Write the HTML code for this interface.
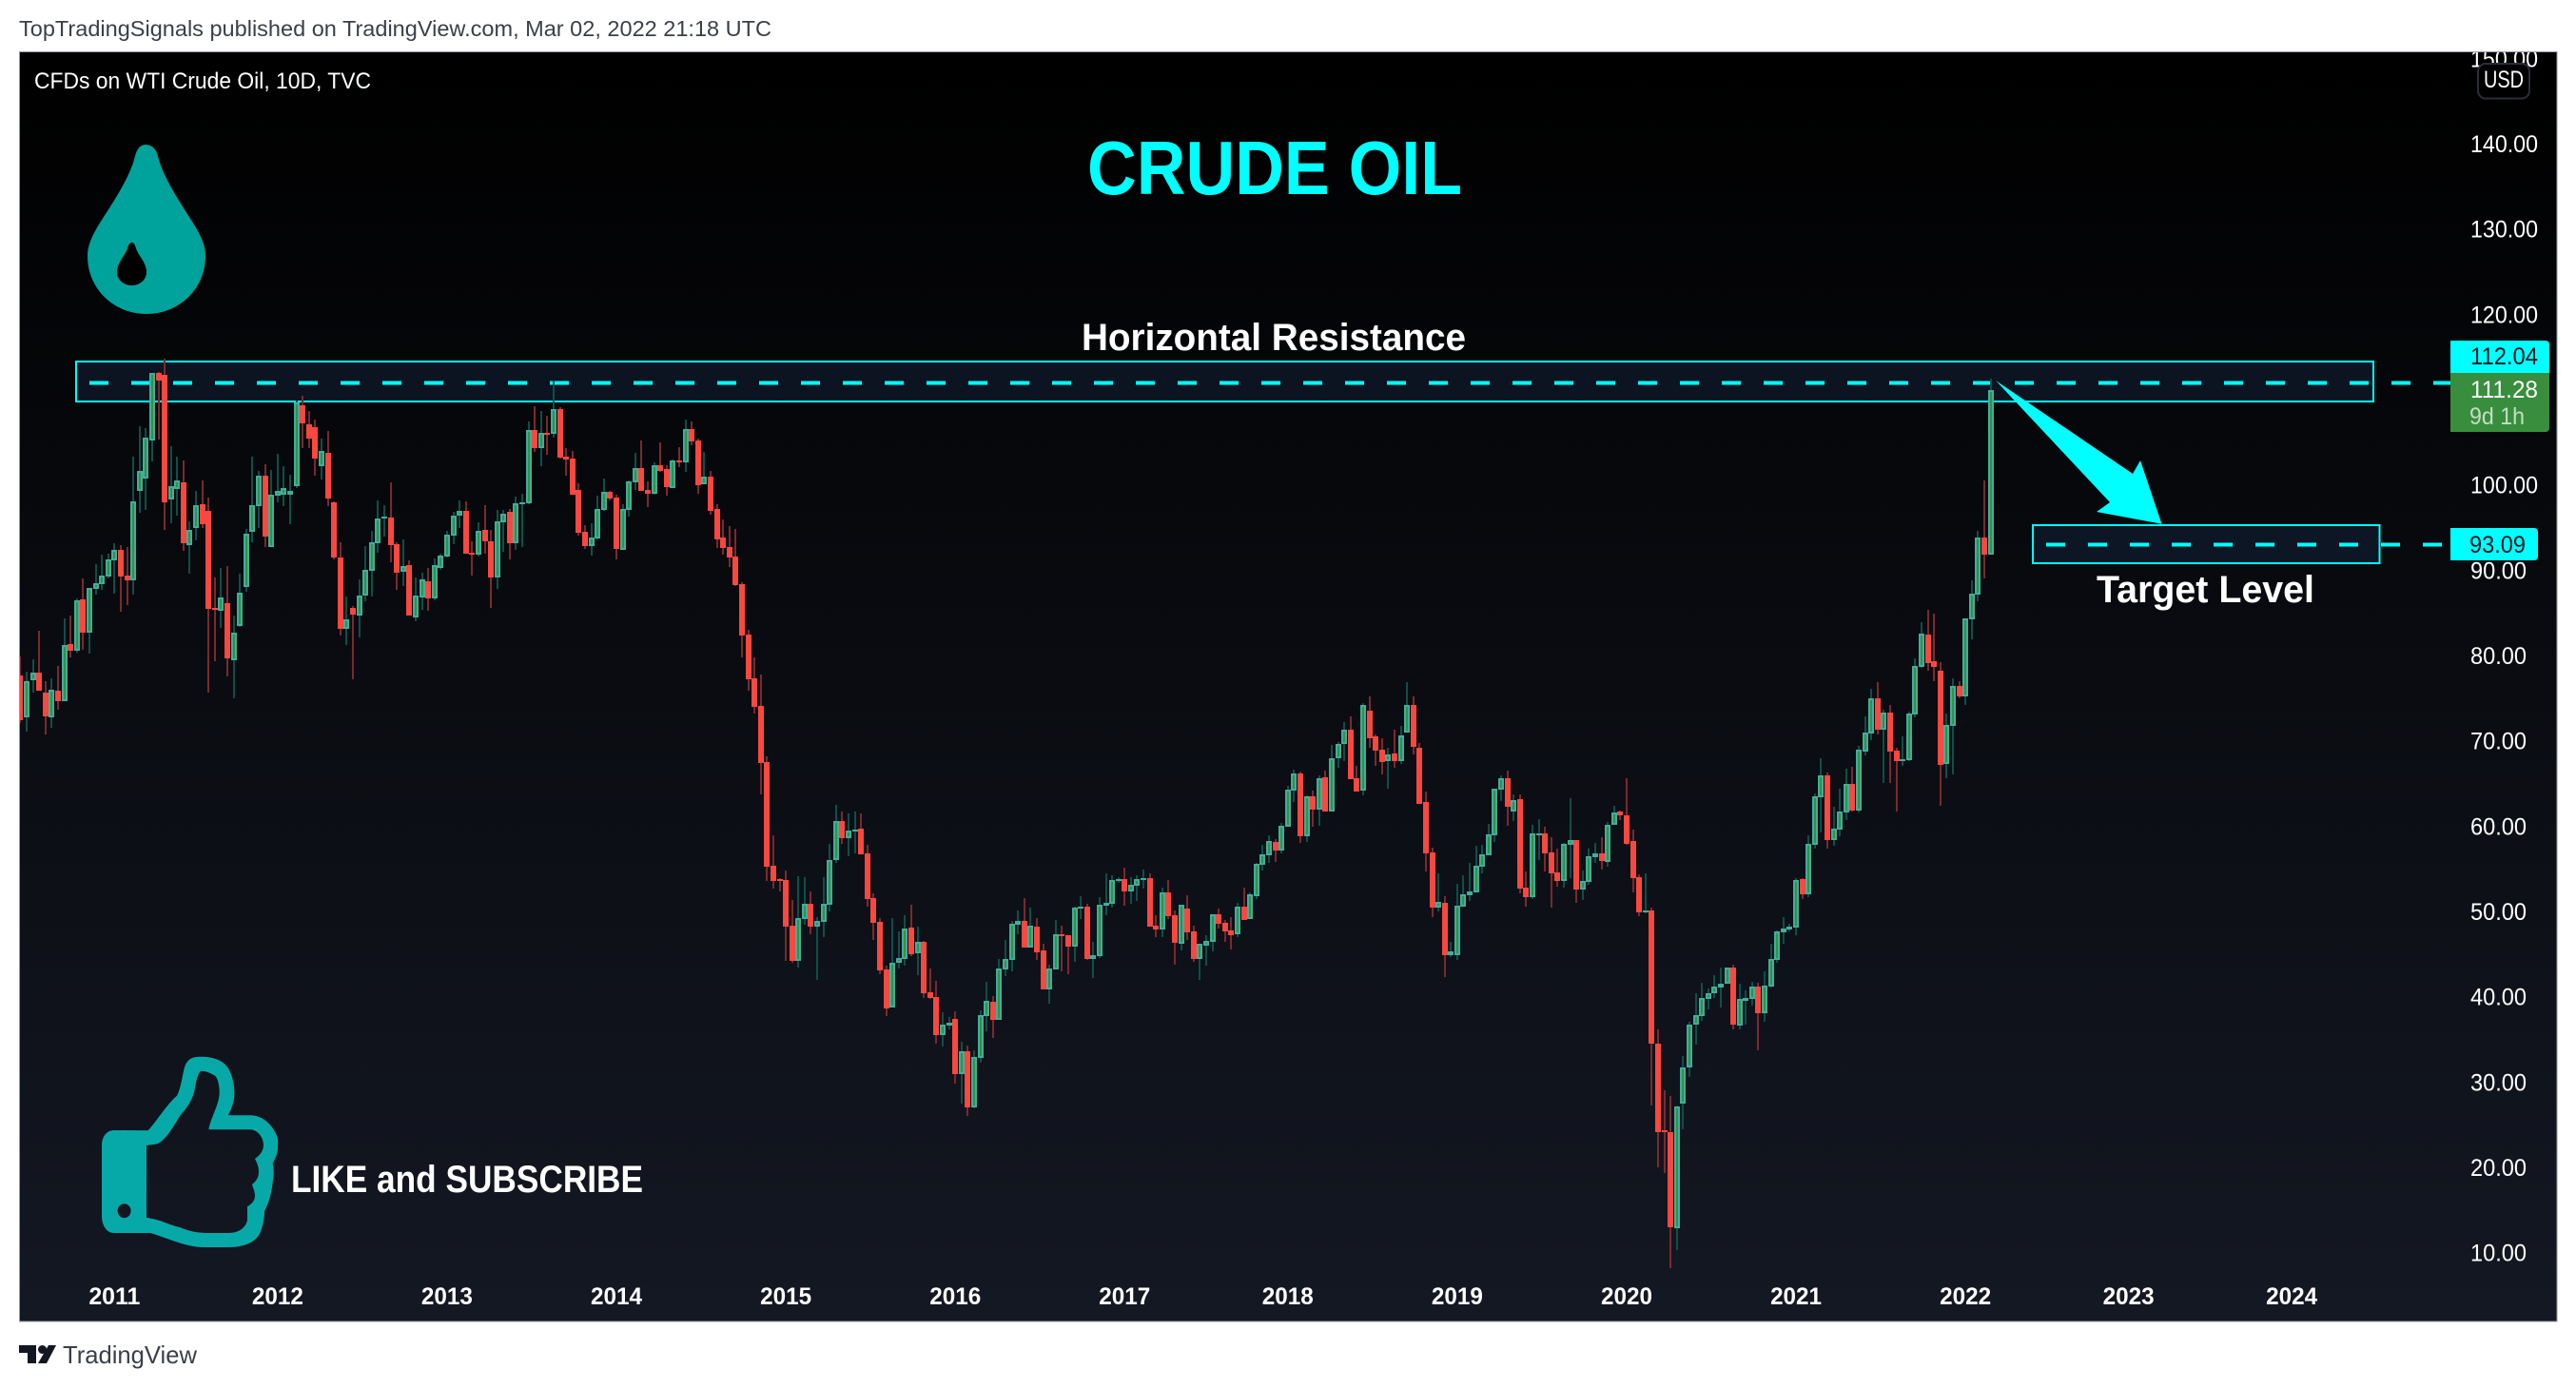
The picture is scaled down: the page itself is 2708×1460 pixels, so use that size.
<!DOCTYPE html>
<html lang="en">
<head>
<meta charset="utf-8">
<title>CFDs on WTI Crude Oil, 10D, TVC</title>
<style>
html,body{margin:0;padding:0;background:#fff;width:2708px;height:1460px;overflow:hidden}
svg{display:block;font-family:"Liberation Sans",sans-serif}
</style>
</head>
<body>
<svg id="chart-root" xmlns="http://www.w3.org/2000/svg" width="2708" height="1460" viewBox="0 0 2708 1460">
<defs>
<linearGradient id="bg-grad" x1="0" y1="0" x2="0" y2="1">
<stop offset="0" stop-color="#000000"/>
<stop offset="1" stop-color="#141823"/>
</linearGradient>
<clipPath id="pane-clip"><rect x="21" y="55" width="2667" height="1334"/></clipPath>
</defs>
<rect x="0" y="0" width="2708" height="1460" fill="#ffffff"/>
<text x="20" y="38" font-size="23" fill="#3b3f4a" textLength="791" lengthAdjust="spacingAndGlyphs">TopTradingSignals published on TradingView.com, Mar 02, 2022 21:18 UTC</text>
<rect x="20.5" y="54.5" width="2667.5" height="1334.5" fill="url(#bg-grad)" stroke="#9598a1" stroke-width="1"/>

<rect x="80" y="380" width="2415" height="42" fill="#0b1420" stroke="#00ffff" stroke-width="2"/>
<rect x="2137" y="552" width="364.5" height="40" fill="#0c1624" stroke="#00ffff" stroke-width="2"/>
<line x1="94" y1="402.5" x2="2576" y2="402.5" stroke="#00ffff" stroke-width="4" stroke-dasharray="20 24"/>
<line x1="2151" y1="572.5" x2="2576" y2="572.5" stroke="#00ffff" stroke-width="4" stroke-dasharray="20 24"/>

<g id="candles" clip-path="url(#pane-clip)" shape-rendering="crispEdges"></g>

<polygon points="2098,400 2242,498 2250,484 2272.5,550.7 2204,538 2218,528" fill="#00ffff"/>

<text x="36" y="93" font-size="24" fill="#ffffff" textLength="354" lengthAdjust="spacingAndGlyphs">CFDs on WTI Crude Oil, 10D, TVC</text>
<text x="1143" y="204" font-size="80" font-weight="bold" fill="#00ffff" textLength="394" lengthAdjust="spacingAndGlyphs">CRUDE OIL</text>
<text x="1137" y="368" font-size="40" font-weight="bold" fill="#ffffff" textLength="404" lengthAdjust="spacingAndGlyphs">Horizontal Resistance</text>
<text x="2204" y="633" font-size="40" font-weight="bold" fill="#ffffff" textLength="229" lengthAdjust="spacingAndGlyphs">Target Level</text>
<text x="306" y="1253" font-size="40" font-weight="bold" fill="#ffffff" textLength="370" lengthAdjust="spacingAndGlyphs">LIKE and SUBSCRIBE</text>

<g>
<path fill="#00a39b" d="M153,152 C159,152 164,156 166,164 C172,190 196,222 207,241 C213,252 216,260 216,269 C216,304 188,330 154,330 C120,330 92,304 92,269 C92,260 95,252 101,241 C112,222 136,190 142,164 C144,156 148,152 153,152Z"/>
<path fill="#000000" d="M138.5,255 C141,255 142,258 143,261 C145,268 154,276 154,286 C154,294 147,300 138.5,300 C130,300 123,294 123,286 C123,276 132,268 134,261 C135,258 136,255 138.5,255Z"/>
</g>

<path fill="#07a9a8" fill-rule="evenodd" d="M120,1188 L155.6,1188.3 C165,1178 176,1160 186,1151.7 C192,1140 192,1122 196.4,1116.7 C200,1111 206,1110.7 211.7,1110.7 C226,1110.7 236,1116 240,1123 C245,1132 246.4,1142 246.4,1150 C246.4,1158 243,1166 239.8,1172.3 L262.8,1172.3 C276,1172.3 286,1182 290.8,1193.3 C293,1199 292,1203 292,1206.7 C292,1213 289,1218 286.7,1223 C288,1229 288,1235 287,1240 C286,1250 284,1262 278,1273 C278,1282 276,1290 273,1296.7 C268,1306 256,1311 240,1311 L214,1311 C196,1311 178,1302 158,1296 L120,1296 C112,1296 107,1288 107,1278 L107,1204 C107,1195 112,1188 120,1188Z M154,1204 L154,1280 C170,1282 178,1288 189,1290 C200,1295 210,1296 219,1296 L240,1296 C252,1296 258,1290 260,1283 L260,1268.3 C265,1265 268,1262 268,1256.7 C268,1252 266,1249 265,1245 C270,1241 272,1237 272,1231.7 C272,1226 270,1222 268,1218 C274,1214 277,1209 277,1203.3 C277,1196 271,1187.3 262.8,1187.3 L219.4,1187.3 C221,1176 230,1162 230.6,1150 C231,1142 229,1131 224.5,1130 C218,1126 212,1125 210,1126.7 C205,1135 206,1146 201.5,1155 C198,1163 193,1168 189,1173 C182,1185 172,1202 163,1202.7 Z M130.6,1265.2 a7,7.5 0 1 0 0.01,0Z"/>

<g id="price-axis" clip-path="url(#pane-clip)"></g>
<g id="time-axis"></g>

<rect x="2605" y="67" width="54" height="36.5" rx="8" fill="#000000" stroke="#2a2e39" stroke-width="2"/>
<text x="2632" y="92" font-size="25" fill="#ffffff" text-anchor="middle" textLength="42" lengthAdjust="spacingAndGlyphs">USD</text>

<path d="M2576,358 H2676 a4,4 0 0 1 4,4 V392 H2576Z" fill="#00ffff"/>
<text x="2597" y="383" font-size="25" fill="#131722" textLength="71" lengthAdjust="spacingAndGlyphs">112.04</text>
<path d="M2576,392 H2680 V450 a4,4 0 0 1 -4,4 H2576Z" fill="#388e3c"/>
<text x="2597" y="418" font-size="25" fill="#ffffff" textLength="71" lengthAdjust="spacingAndGlyphs">111.28</text>
<text x="2596" y="446" font-size="25" fill="#ffffff" fill-opacity="0.7" textLength="58" lengthAdjust="spacingAndGlyphs">9d 1h</text>
<path d="M2576,555 H2664 a4,4 0 0 1 4,4 V585 a4,4 0 0 1 -4,4 H2576Z" fill="#00ffff"/>
<text x="2596" y="581" font-size="25" fill="#131722" textLength="59" lengthAdjust="spacingAndGlyphs">93.09</text>

<g>
<path d="M20,1414 H38 V1433 H29 V1422 H20Z" fill="#131722"/>
<circle cx="44.5" cy="1418.5" r="4.5" fill="#131722"/>
<path d="M51,1414 H59 L49,1433 H40Z" fill="#131722"/>
<text x="66" y="1433" font-size="26" fill="#3b3f4a" textLength="141" lengthAdjust="spacingAndGlyphs">TradingView</text>
</g>
</svg>

<script>
const opens = [77.77,72.83,77.25,78.11,75.76,72.90,75.99,74.80,81.45,80.71,
86.69,82.83,87.96,88.51,89.41,91.30,92.49,89.48,88.96,99.44,
100.89,105.35,113.23,113.01,98.44,99.66,100.41,93.09,95.09,97.84,
97.06,85.69,85.39,86.25,79.59,83.57,88.14,94.61,97.66,101.19,
92.83,98.88,98.96,98.96,99.96,109.44,107.21,106.88,102.30,103.86,
98.07,91.60,83.24,85.69,84.80,87.14,90.04,93.27,96.17,96.28,
93.16,89.93,90.71,84.57,86.91,88.81,86.80,90.37,91.71,94.16,
96.50,97.06,92.16,91.93,94.83,93.49,89.26,95.72,96.95,93.27,
97.84,97.95,106.54,104.42,106.24,106.10,108.99,103.42,103.20,99.52,
94.61,92.94,93.83,97.17,99.29,98.62,92.49,97.17,100.41,102.08,
99.52,99.07,102.42,101.97,99.74,102.97,102.75,106.65,105.31,100.18,
101.08,97.29,93.94,92.83,91.71,88.48,82.57,77.44,74.20,67.63,
55.47,53.91,53.80,48.45,44.32,49.23,51.01,48.34,48.89,50.90,
56.14,60.71,58.71,59.49,59.82,56.92,51.68,48.89,43.32,38.86,
44.10,44.55,48.23,45.21,46.55,40.64,40.08,35.62,36.74,37.52,
31.05,33.73,27.15,32.95,37.86,39.53,37.41,43.32,44.43,48.56,
49.01,45.88,48.34,45.55,40.98,43.32,47.44,47.33,46.00,50.46,
50.68,44.55,44.88,50.79,51.01,53.87,53.91,52.46,53.13,53.80,
54.02,48.45,48.00,52.35,49.67,46.33,50.45,47.78,44.55,46.11,
46.55,49.79,48.78,47.89,47.44,50.68,49.23,51.90,55.58,56.70,
58.26,57.26,60.04,64.28,66.29,58.93,63.61,62.05,65.84,61.83,
68.07,69.75,71.42,65.73,64.28,73.65,70.64,69.08,67.74,68.63,
67.74,71.08,74.32,69.30,62.94,57.03,50.57,51.12,44.99,44.99,
50.68,52.02,52.35,55.36,56.70,59.04,64.39,65.73,61.83,63.28,
52.91,51.79,59.04,59.26,57.03,54.69,53.69,57.93,58.48,52.69,
53.58,56.48,56.97,55.89,60.27,61.79,61.35,58.32,54.10,50.00,
50.19,34.58,24.43,24.19,12.95,27.57,31.87,36.81,37.85,39.84,
40.52,41.19,41.63,43.50,36.73,39.68,39.80,41.27,38.17,41.27,
44.42,47.65,48.04,48.20,53.86,52.07,57.88,63.50,66.01,58.44,
59.75,61.67,65.01,61.90,68.86,70.97,75.10,71.42,73.43,68.97,
67.74,67.85,73.20,78.78,82.57,79.45,78.33,67.41,71.87,76.55,
75.32,84.36,87.26,93.95,91.94];

const highs = [80.00,78.22,79.63,83.01,77.10,77.44,78.89,84.46,84.80,86.80,
89.15,88.03,90.82,91.93,92.04,93.27,93.05,92.83,103.42,106.99,
106.76,113.23,113.34,114.90,104.65,103.42,102.97,95.84,99.40,100.63,
98.62,89.26,90.37,90.59,84.80,89.70,94.94,103.42,101.75,102.53,
101.86,103.75,102.30,101.30,110.00,110.56,108.77,107.77,105.54,106.43,
98.18,93.38,87.03,85.91,89.03,92.94,94.72,98.29,97.73,100.41,
93.38,93.72,91.27,89.26,89.81,90.37,91.49,92.04,94.72,96.95,
98.29,98.18,93.49,95.72,97.73,94.83,97.17,97.17,97.29,98.74,
99.07,107.54,109.33,108.77,108.21,112.34,109.22,104.42,104.09,100.30,
95.39,95.61,98.85,100.85,99.40,98.96,97.84,100.63,103.86,105.31,
100.52,102.75,105.09,102.42,103.08,104.53,107.77,107.54,105.54,103.98,
101.75,97.84,96.06,95.28,94.94,88.70,83.12,79.89,77.88,68.30,
59.04,54.02,54.92,51.46,54.25,54.14,52.46,49.45,54.14,58.04,
62.61,61.83,61.61,61.83,61.61,57.93,52.24,49.34,43.76,49.34,
47.78,49.67,50.90,48.34,46.66,43.43,41.98,38.30,37.74,38.41,
34.84,34.40,33.84,38.52,41.87,40.20,44.55,46.78,49.01,50.23,
51.68,50.57,49.34,46.33,43.88,49.12,48.45,47.33,50.68,51.91,
51.01,46.55,51.79,54.58,54.36,54.14,55.25,54.14,54.36,55.03,
54.58,49.67,52.91,53.80,50.23,50.90,52.02,48.45,46.33,47.33,
49.79,50.45,49.12,49.45,51.12,52.91,52.35,55.81,57.93,59.04,
58.60,60.49,64.84,66.74,66.51,63.72,64.28,66.07,66.62,69.63,
69.97,72.31,72.98,67.18,74.54,75.32,70.86,70.42,69.30,71.42,
71.86,76.99,75.32,69.86,64.17,57.59,54.58,51.90,46.55,53.35,
54.36,55.81,57.81,57.93,60.38,64.51,66.07,66.62,63.84,63.84,
54.80,60.27,60.94,60.04,58.82,57.48,58.15,63.39,58.48,54.92,
57.48,58.15,58.76,60.55,62.46,61.99,65.69,59.75,54.42,54.54,
50.51,36.33,29.20,28.45,27.41,33.11,37.13,40.48,41.71,41.11,
42.59,43.58,43.50,43.82,41.59,40.91,41.91,41.71,43.14,46.37,
47.85,49.40,48.72,53.98,53.98,59.00,63.90,68.04,66.45,62.34,
64.45,66.80,67.12,69.47,72.98,76.22,77.00,73.76,74.32,69.30,
70.64,73.54,79.78,84.02,85.47,85.02,79.34,73.32,77.44,77.11,
84.47,88.93,94.73,100.64,112.57];

const lows = [72.20,71.23,75.80,76.02,70.86,71.68,73.79,74.80,79.93,80.48,
80.82,80.37,87.29,87.81,89.15,87.36,85.28,86.02,87.25,96.84,
97.17,102.86,105.43,94.83,95.61,96.50,92.38,89.70,93.61,95.06,
75.76,79.44,83.35,77.66,75.09,83.46,87.58,93.38,95.06,92.83,
92.83,98.07,97.62,95.50,99.74,104.42,104.42,101.19,100.74,97.62,
91.38,82.45,81.34,77.33,82.23,86.47,87.03,92.16,94.05,91.04,
87.81,88.25,84.80,84.13,85.47,85.35,86.58,90.15,91.60,93.16,
95.06,92.04,89.48,91.71,92.04,85.69,87.92,92.27,91.38,92.49,
92.83,97.84,103.98,102.30,103.64,105.65,103.20,101.19,98.96,94.16,
92.60,91.82,93.72,97.06,98.29,91.38,92.49,96.39,99.52,99.40,
97.51,98.96,101.63,98.85,99.74,102.19,101.63,104.76,99.07,100.18,
96.62,92.71,91.93,90.48,88.25,79.89,75.99,73.31,63.84,53.69,
52.80,52.46,44.32,44.10,43.54,48.56,47.44,42.09,47.11,50.12,
55.81,58.04,56.59,56.92,56.81,50.68,46.78,42.76,37.86,38.86,
43.43,43.76,44.88,42.65,39.97,39.86,34.62,34.29,36.29,29.94,
27.60,26.15,27.04,32.39,36.07,35.29,37.41,42.54,43.10,47.44,
45.88,45.88,44.43,40.98,39.30,43.32,43.10,42.76,44.21,49.23,
44.43,42.32,44.66,49.67,50.57,53.47,50.79,51.01,51.35,52.80,
48.34,47.11,47.11,49.23,43.88,45.55,46.77,44.21,42.09,43.76,
45.44,48.11,46.55,45.66,47.11,49.12,49.23,51.57,54.92,55.81,
55.92,56.92,60.04,62.94,58.15,58.26,60.04,60.16,61.83,61.83,
66.96,67.74,65.62,64.17,63.72,69.30,67.18,66.18,64.51,66.96,
67.40,71.08,68.52,62.72,54.80,49.45,50.12,42.43,44.77,44.43,
50.68,51.35,52.35,54.58,56.70,58.26,63.06,60.16,60.71,52.24,
50.68,51.57,56.14,54.80,50.57,53.02,52.91,54.02,51.12,51.46,
53.24,55.81,54.97,55.41,60.27,60.79,57.88,52.31,49.52,49.84,
27.41,20.16,19.41,8.25,10.36,24.54,30.76,34.46,37.25,38.68,
39.92,38.80,41.63,36.25,36.25,36.81,39.12,33.78,37.13,41.19,
44.06,46.29,47.73,47.29,51.51,51.75,57.52,59.32,57.44,57.76,
58.88,60.79,61.79,61.67,68.41,70.19,70.86,65.18,65.18,61.83,
67.18,67.74,72.87,78.67,78.33,77.11,62.50,65.73,66.18,75.10,
74.32,82.01,86.47,89.15,91.94];

const closes = [72.57,77.10,78.11,76.02,73.01,76.10,74.80,81.34,80.71,86.58,
82.83,88.03,88.59,89.48,91.38,92.49,89.41,88.96,98.18,101.75,
105.65,113.23,112.38,98.07,99.96,100.63,93.27,94.83,97.73,95.54,
85.58,85.47,86.91,79.78,82.79,87.47,94.39,97.73,101.19,94.05,
98.96,99.40,99.74,99.40,109.77,107.32,105.54,103.20,104.09,98.51,
91.60,83.24,84.35,84.91,87.14,90.15,93.38,96.17,96.39,93.05,
89.81,90.59,84.80,87.14,89.03,86.80,90.71,91.82,94.27,96.50,
97.06,92.04,91.93,94.72,93.49,89.26,95.84,96.73,93.27,97.95,
98.07,106.54,104.42,106.21,106.10,108.99,103.31,103.08,98.96,94.50,
92.94,93.94,97.29,99.29,98.51,92.60,97.29,100.52,102.08,99.40,
99.07,102.42,101.75,99.85,102.97,102.75,106.65,105.20,100.07,101.08,
97.06,93.72,92.71,91.60,88.36,82.45,77.33,74.09,67.52,55.36,
53.69,53.69,48.34,44.32,49.34,51.01,48.34,49.01,51.01,56.14,
60.71,58.71,59.60,59.71,56.81,51.57,48.78,43.21,38.75,44.10,
44.66,48.11,45.10,46.55,40.53,39.97,35.62,36.85,37.07,31.05,
33.73,27.15,33.06,37.97,39.64,37.41,43.43,44.55,48.67,49.01,
45.88,48.45,45.33,40.98,43.43,47.44,47.22,46.00,50.57,50.68,
44.55,44.99,50.90,51.12,53.80,53.93,52.46,53.24,53.91,54.02,
48.34,48.00,52.35,49.56,46.44,50.90,47.67,44.55,46.33,46.66,
49.79,48.67,47.78,47.33,50.68,49.12,52.13,55.70,56.81,58.37,
57.26,60.16,64.39,66.29,58.93,63.61,62.05,65.73,61.83,68.07,
69.75,71.42,65.62,64.17,74.32,70.42,68.97,67.63,68.52,67.74,
70.75,74.32,69.41,62.72,56.92,50.57,51.24,44.99,45.44,50.79,
52.13,52.46,55.47,56.81,59.15,64.51,65.73,62.39,63.17,52.80,
51.79,59.26,59.26,56.92,54.58,53.69,58.04,58.48,52.69,53.69,
56.59,56.92,56.01,60.27,61.75,61.35,58.08,53.98,50.00,50.19,
34.66,24.23,24.19,13.07,27.21,31.87,36.89,37.93,39.92,40.56,
41.27,41.67,43.50,36.81,39.80,39.92,41.27,38.17,41.47,44.50,
47.73,48.16,48.28,53.74,52.07,58.00,63.58,66.01,58.44,59.87,
61.79,65.01,61.90,69.03,71.09,75.10,71.42,73.43,68.86,67.74,
67.96,73.32,78.89,82.68,79.23,78.78,67.29,71.98,76.55,75.32,
84.47,87.37,93.95,91.94,111.28];

const priceTicks = [150,140,130,120,100,90,80,70,60,50,40,30,20,10];
const yearLabels = ["2011","2012","2013","2014","2015","2016","2017","2018","2019","2020","2021","2022","2023","2024"];
const yearBars = [15,41,68,95,122,149,176,202,229,256,283,310,336,362];

const SVG_NS = "http://www.w3.org/2000/svg";
function xOf(i){ return 21.4 + 6.596 * i; }
function yOf(p){ return 152 + (140 - p) * 8.967; }

function makeRect(parent, x, y, w, h, fill){
  const r = document.createElementNS(SVG_NS, "rect");
  r.setAttribute("x", x);
  r.setAttribute("y", y);
  r.setAttribute("width", w);
  r.setAttribute("height", h);
  r.setAttribute("fill", fill);
  parent.appendChild(r);
  return r;
}

const candleGroup = document.getElementById("candles");
for (let i = 0; i < opens.length; i++) {
  const up = closes[i] >= opens[i];
  const cx = Math.round(xOf(i));
  const top = Math.round(yOf(Math.max(opens[i], closes[i])));
  let bot = Math.round(yOf(Math.min(opens[i], closes[i])));
  if (bot - top < 2) bot = top + 2;
  const hi = Math.round(yOf(highs[i]));
  const lo = Math.round(yOf(lows[i]));
  const g = document.createElementNS(SVG_NS, "g");
  
  
  const wick = makeRect(g, cx - 1, hi, 2, Math.max(lo - hi, 1), up ? "#0f4f48" : "#7a2a2e");
  
  
  const body = makeRect(g, cx - 3, top, 6, bot - top, up ? "#42ad9b" : "#f8483f");
  
  
  if (up && bot - top > 4) {
    const inner = makeRect(g, cx - 1, top + 2, 2, bot - top - 4, "#339147");
    
    
  }
  candleGroup.appendChild(g);
}

const priceAxis = document.getElementById("price-axis");
for (let k = 0; k < priceTicks.length; k++) {
  const label = priceTicks[k].toFixed(2);
  const t = document.createElementNS(SVG_NS, "text");
  
  
  t.setAttribute("x", 2597);
  t.setAttribute("y", yOf(priceTicks[k]) + 8);
  t.setAttribute("font-size", 25);
  t.setAttribute("fill", "#ffffff");
  t.setAttribute("textLength", label.length === 6 ? 71 : 59);
  t.setAttribute("lengthAdjust", "spacingAndGlyphs");
  t.textContent = label;
  priceAxis.appendChild(t);
}

const timeAxis = document.getElementById("time-axis");
for (let k = 0; k < yearLabels.length; k++) {
  const t = document.createElementNS(SVG_NS, "text");
  
  
  t.setAttribute("x", xOf(yearBars[k]));
  t.setAttribute("y", 1371);
  t.setAttribute("font-size", 25);
  t.setAttribute("font-weight", "bold");
  t.setAttribute("fill", "#ffffff");
  t.setAttribute("text-anchor", "middle");
  t.setAttribute("textLength", 54);
  t.setAttribute("lengthAdjust", "spacingAndGlyphs");
  t.textContent = yearLabels[k];
  timeAxis.appendChild(t);
}
</script>
</body>
</html>
